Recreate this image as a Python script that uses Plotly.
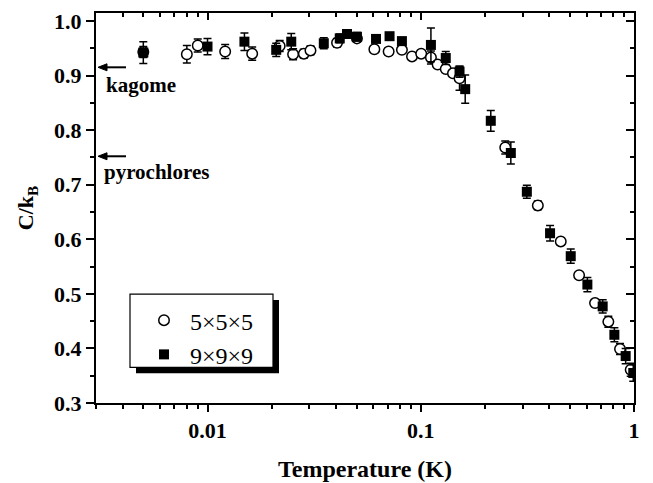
import math
import plotly.graph_objects as go

# ---- data ----
t_5 = [0.005, 0.0080, 0.0090, 0.0121, 0.0162, 0.0218, 0.0252, 0.0283, 0.0304, 0.0405,
       0.0502, 0.0606, 0.0707, 0.0816, 0.0910, 0.1005, 0.1116, 0.120, 0.131, 0.1416,
       0.152, 0.249, 0.354, 0.4534, 0.5527, 0.6566, 0.758, 0.86, 0.965]
c_5 = [0.943, 0.939, 0.955, 0.944, 0.940, 0.954, 0.939, 0.940, 0.946, 0.960,
       0.968, 0.948, 0.944, 0.947, 0.935, 0.940, 0.933, 0.920, 0.912, 0.904,
       0.895, 0.768, 0.662, 0.596, 0.534, 0.483, 0.449, 0.399, 0.361]
e_5 = [0.010, 0.016, 0.012, 0.013, 0.012, 0.010, 0.010, 0.008, 0.008, 0.008,
       0.006, 0.006, 0.006, 0.006, 0.005, 0.005, 0.012, 0.005, 0.006, 0.006,
       0.022, 0.012, 0.008, 0.006, 0.006, 0.006, 0.010, 0.010, 0.012]

t_9 = [0.005, 0.0100, 0.0149, 0.0210, 0.0247, 0.0351, 0.0417, 0.0451, 0.0502, 0.0617,
       0.0714, 0.0816, 0.1116, 0.131, 0.152, 0.1616, 0.213, 0.2645, 0.3144, 0.404,
       0.505, 0.6045, 0.713, 0.809, 0.914, 0.992]
c_9 = [0.942, 0.953, 0.962, 0.947, 0.962, 0.959, 0.968, 0.976, 0.971, 0.967,
       0.972, 0.963, 0.956, 0.932, 0.907, 0.875, 0.817, 0.758, 0.687, 0.611,
       0.569, 0.517, 0.477, 0.425, 0.386, 0.355]
e_9 = [0.020, 0.015, 0.016, 0.012, 0.015, 0.010, 0.008, 0.006, 0.008, 0.006,
       0.006, 0.006, 0.031, 0.012, 0.010, 0.026, 0.019, 0.020, 0.012, 0.014,
       0.013, 0.013, 0.012, 0.013, 0.014, 0.015]

x_major = [0.01, 0.1, 1]
x_major_text = ["0.01", "0.1", "1"]
x_minor = [m * d for d in (0.001, 0.01, 0.1) for m in range(2, 10) if m * d >= 0.003]

y_lo, y_hi = 0.3, 1.0145
x_lo, x_hi = 0.003, 1.0

kagome_level = 0.915
pyro_level = 0.752

FONT = "Liberation Serif"

# page pixel -> paper coordinate (page has an 8px body offset)
PLOT_L, PLOT_R, PLOT_T, PLOT_B = 96, 634, 9, 403

def px_x(p):
    return (p - PLOT_L) / float(PLOT_R - PLOT_L)

def px_y(p):
    return (PLOT_B - p) / float(PLOT_B - PLOT_T)

fig = go.Figure()

fig.add_trace(go.Scatter(
    x=t_5, y=c_5, mode="markers", name="5\u00d75\u00d75",
    marker=dict(symbol="circle", size=10.5, color="white", line=dict(color="black", width=1.5)),
    error_y=dict(type="data", array=e_5, color="black", thickness=1.5, width=4),
))
fig.add_trace(go.Scatter(
    x=t_9, y=c_9, mode="markers", name="9\u00d79\u00d79",
    marker=dict(symbol="square", size=10, color="black", line=dict(color="black", width=0)),
    error_y=dict(type="data", array=e_9, color="black", thickness=1.5, width=4),
))

tickfont = dict(family=FONT, size=22, color="black", weight="bold")

fig.update_layout(
    width=645, height=475,
    margin=dict(l=88, r=19, t=1, b=80),
    paper_bgcolor="white", plot_bgcolor="white",
    showlegend=True,
    legend=dict(
        x=px_x(138), y=px_y(297), xanchor="left", yanchor="top",
        bgcolor="rgba(0,0,0,0)", borderwidth=0,
        font=dict(family=FONT, size=24, color="black"),
        itemwidth=42, tracegroupgap=2,
    ),
    xaxis=dict(
        type="log", range=[math.log10(x_lo), math.log10(x_hi)],
        showgrid=False, zeroline=False,
        showline=True, linecolor="black", linewidth=2, mirror=True,
        ticks="outside", ticklen=7, tickwidth=1.5, tickcolor="black",
        tickvals=x_major, ticktext=x_major_text, tickfont=tickfont,
        ticklabeloverflow="allow",
        minor=dict(tickvals=x_minor, ticks="outside", ticklen=4, tickwidth=1.5, tickcolor="black", showgrid=False),
        title=dict(text="Temperature (K)", font=dict(family=FONT, size=24, color="black", weight="bold"), standoff=18),
    ),
    yaxis=dict(
        range=[y_lo, y_hi],
        showgrid=False, zeroline=False,
        showline=True, linecolor="black", linewidth=2, mirror=True,
        ticks="outside", ticklen=8, tickwidth=1.5, tickcolor="black",
        tick0=0.3, dtick=0.1, tickformat=".1f", tickfont=tickfont,
        ticklabeloverflow="allow",
        minor=dict(dtick=0.05, ticks="outside", ticklen=4, tickwidth=1.5, tickcolor="black", showgrid=False),
        title=dict(text="C/k<sub>B</sub>", font=dict(family=FONT, size=22, color="black", weight="bold"), standoff=14),
    ),
    xaxis2=dict(
        type="log", range=[math.log10(x_lo), math.log10(x_hi)], overlaying="x", side="top",
        showgrid=False, zeroline=False, showline=False, showticklabels=False,
        ticks="inside", ticklen=7, tickwidth=1.5, tickcolor="black", tickvals=x_major,
        minor=dict(tickvals=x_minor, ticks="inside", ticklen=4, tickwidth=1.5, tickcolor="black", showgrid=False),
    ),
    yaxis2=dict(
        range=[y_lo, y_hi], overlaying="y", side="right",
        showgrid=False, zeroline=False, showline=False, showticklabels=False,
        ticks="inside", ticklen=8, tickwidth=1.5, tickcolor="black", tick0=0.3, dtick=0.1,
        minor=dict(dtick=0.05, ticks="inside", ticklen=4, tickwidth=1.5, tickcolor="black", showgrid=False),
    ),
)

# invisible trace so the secondary (mirror-tick) axes render
fig.add_trace(go.Scatter(x=[x_lo], y=[y_lo], xaxis="x2", yaxis="y2", mode="markers",
                         marker=dict(opacity=0), showlegend=False, hoverinfo="skip"))

# legend box with drop shadow
fig.add_shape(type="rect", xref="paper", yref="paper",
              x0=px_x(136), x1=px_x(279), y0=px_y(373), y1=px_y(299),
              fillcolor="black", line=dict(width=0), layer="above")
fig.add_shape(type="rect", xref="paper", yref="paper",
              x0=px_x(130), x1=px_x(273), y0=px_y(367), y1=px_y(293),
              fillcolor="white", line=dict(color="black", width=1.2), layer="above")

# arrows (pixel-sized shapes anchored at the left axis) and labels
for level in (kagome_level, pyro_level):
    fig.add_shape(type="path", xref="paper", yref="y", xsizemode="pixel", ysizemode="pixel",
                  xanchor=0, yanchor=level, path="M 2,0 L 11,3.5 L 11,-3.5 Z",
                  fillcolor="black", line=dict(color="black", width=1), layer="above")
    fig.add_shape(type="path", xref="paper", yref="y", xsizemode="pixel", ysizemode="pixel",
                  xanchor=0, yanchor=level, path="M 9,0 L 30,0",
                  line=dict(color="black", width=2), layer="above")

label_font = dict(family=FONT, size=21, color="black", weight="bold")
fig.add_annotation(x=px_x(104), y=px_y(82), xref="paper", yref="paper",
                   text="kagome", showarrow=False, xanchor="left", yanchor="middle", font=label_font)
fig.add_annotation(x=px_x(102), y=px_y(170), xref="paper", yref="paper",
                   text="pyrochlores", showarrow=False, xanchor="left", yanchor="middle", font=label_font)

fig.write_html("out.html")
